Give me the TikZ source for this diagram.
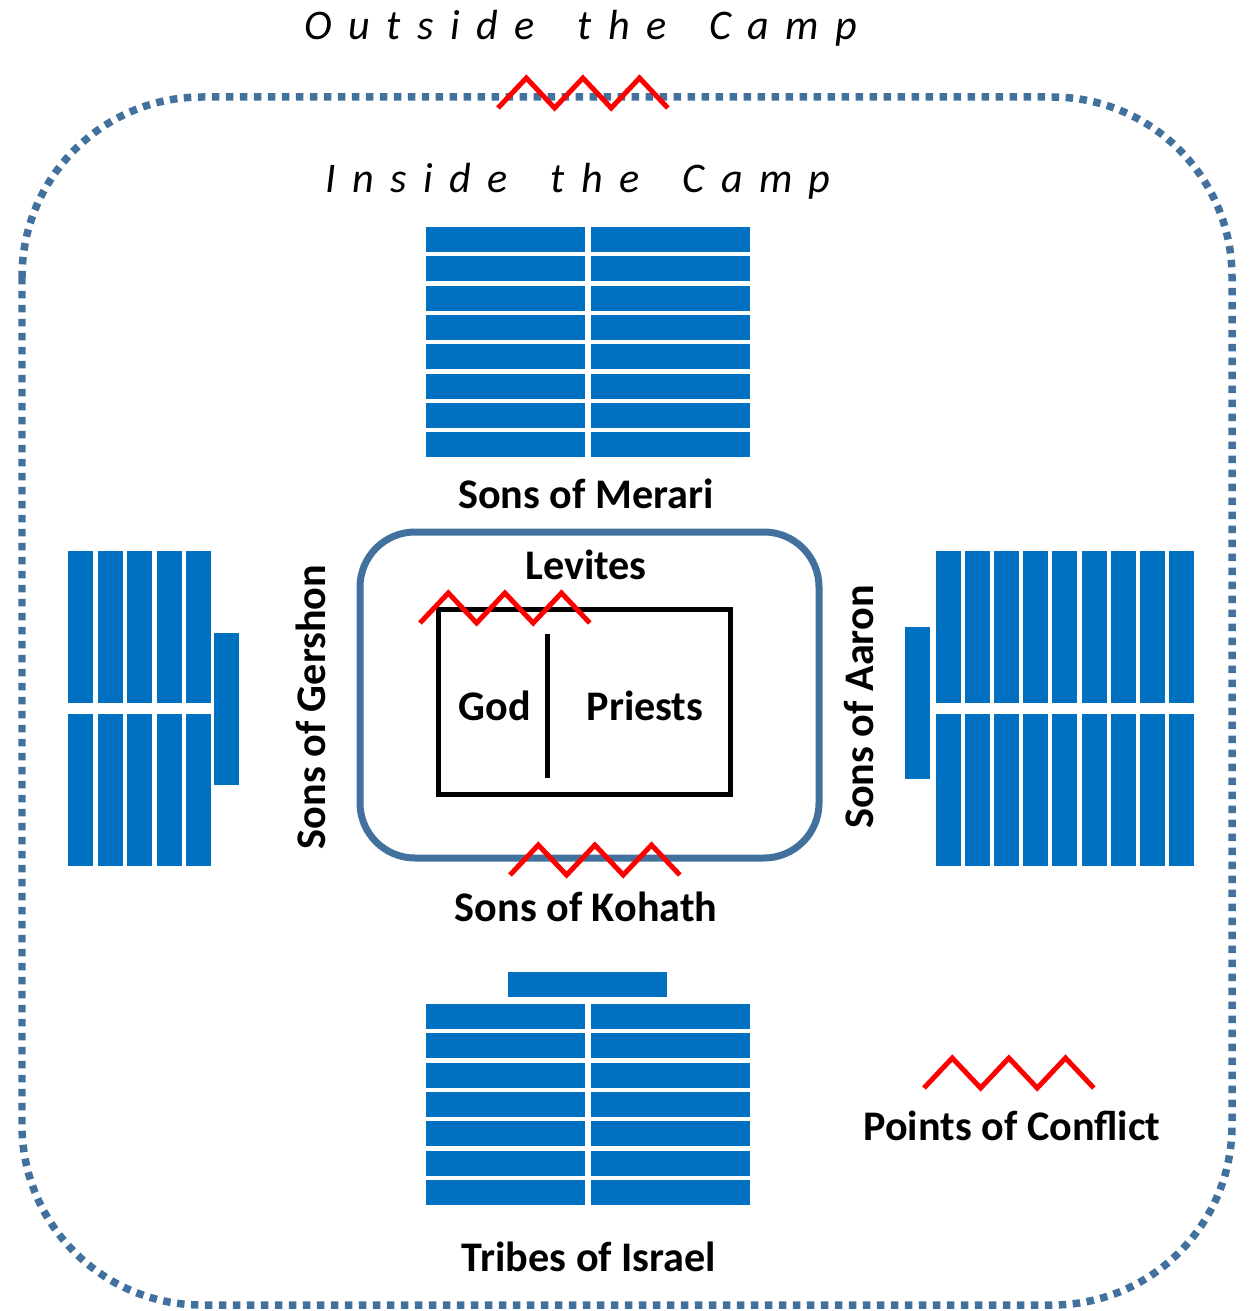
\documentclass[tikz,border=0pt]{standalone}
\usepackage{fontspec}
\setmainfont{Carlito}
\definecolor{tentblue}{HTML}{0070C0}
\definecolor{campline}{HTML}{41719C}
\newcommand{\campfont}{\fontsize{24}{28}\selectfont\itshape\addfontfeature{LetterSpace=39}}
\newcommand{\campgap}{\hspace{1.02em}}
\tikzset{
    zigzag/.pic={\draw[red,line width=0.1cm] (0,0) -- ++(28.3,-30) -- ++(28.3,30) -- ++(28.3,-30) -- ++(28.3,30) -- ++(28.3,-30) -- ++(28.3,30);}
}
\begin{document}
\begin{tikzpicture}[x=0.02cm,y=-0.02cm,
        bar/.style={fill=tentblue},
        lbl/.style={font=\fontsize{24}{28}\selectfont\bfseries,anchor=base,inner sep=0pt},
        camptitle/.style={font=\campfont,anchor=base,inner sep=0pt}]
    \useasboundingbox (0,0) rectangle (1253,1311);
    % border of the camp
    \draw[campline,line width=0.15cm,dash pattern=on 0.15cm off 0.13cm,rounded corners=3.6cm] (22,97) rectangle (1232,1305);
    \node[camptitle] (outside) at (581,40) {Outside\campgap the\campgap Camp};
    \node[camptitle] (inside) at (578,193) {Inside\campgap the\campgap Camp};
    \pic at (498,108) {zigzag};
    % sons of Merari
    \foreach \r in {0,...,7} {
        \fill[bar] (426,227+\r*29.3) rectangle ++(159,25);
        \fill[bar] (591,227+\r*29.3) rectangle ++(159,25);
    }
    \node[lbl] (merari) at (586,508) {Sons of Merari};
    % sons of Gershon
    \foreach \c in {0,...,4} {
        \fill[bar] (68+\c*29.5,551) rectangle ++(25,152);
        \fill[bar] (68+\c*29.5,714) rectangle ++(25,152);
    }
    \fill[bar] (214,633) rectangle (239,785);
    \node[lbl,rotate=90] (gershon) at (325,707) {Sons of Gershon};
    % sons of Aaron
    \foreach \c in {0,...,8} {
        \fill[bar] (936+\c*29.1,551) rectangle ++(25,152);
        \fill[bar] (936+\c*29.1,714) rectangle ++(25,152);
    }
    \fill[bar] (905,627) rectangle (930,779);
    \node[lbl,rotate=90] (aaron) at (873,707) {Sons of Aaron};
    % levites and the tabernacle
    \draw[campline,line width=0.14cm,fill=white,rounded corners=1.1cm] (360,532) rectangle (819,858);
    \node[lbl] (levites) at (586,579) {Levites};
    \draw[line width=0.1cm] (438.5,609.5) rectangle (730.5,794.5);
    \draw[line width=0.1cm] (547,634) -- (547,778);
    \node[lbl] (god) at (495,720) {God};
    \node[lbl] (priests) at (645,720) {Priests};
    \pic at (420,623) {zigzag};
    \pic at (510,875) {zigzag};
    \node[lbl] (kohath) at (586,921) {Sons of Kohath};
    % tribes of Israel
    \fill[bar] (508,972) rectangle (667,997);
    \foreach \r in {0,...,6} {
        \fill[bar] (426,1004+\r*29.3) rectangle ++(159,25);
        \fill[bar] (591,1004+\r*29.3) rectangle ++(159,25);
    }
    \node[lbl] (israel) at (589,1271) {Tribes of Israel};
    % legend
    \pic at (924,1088) {zigzag};
    \node[lbl] (conflict) at (1012,1140) {Points of Conflict};
\end{tikzpicture}
\end{document}
